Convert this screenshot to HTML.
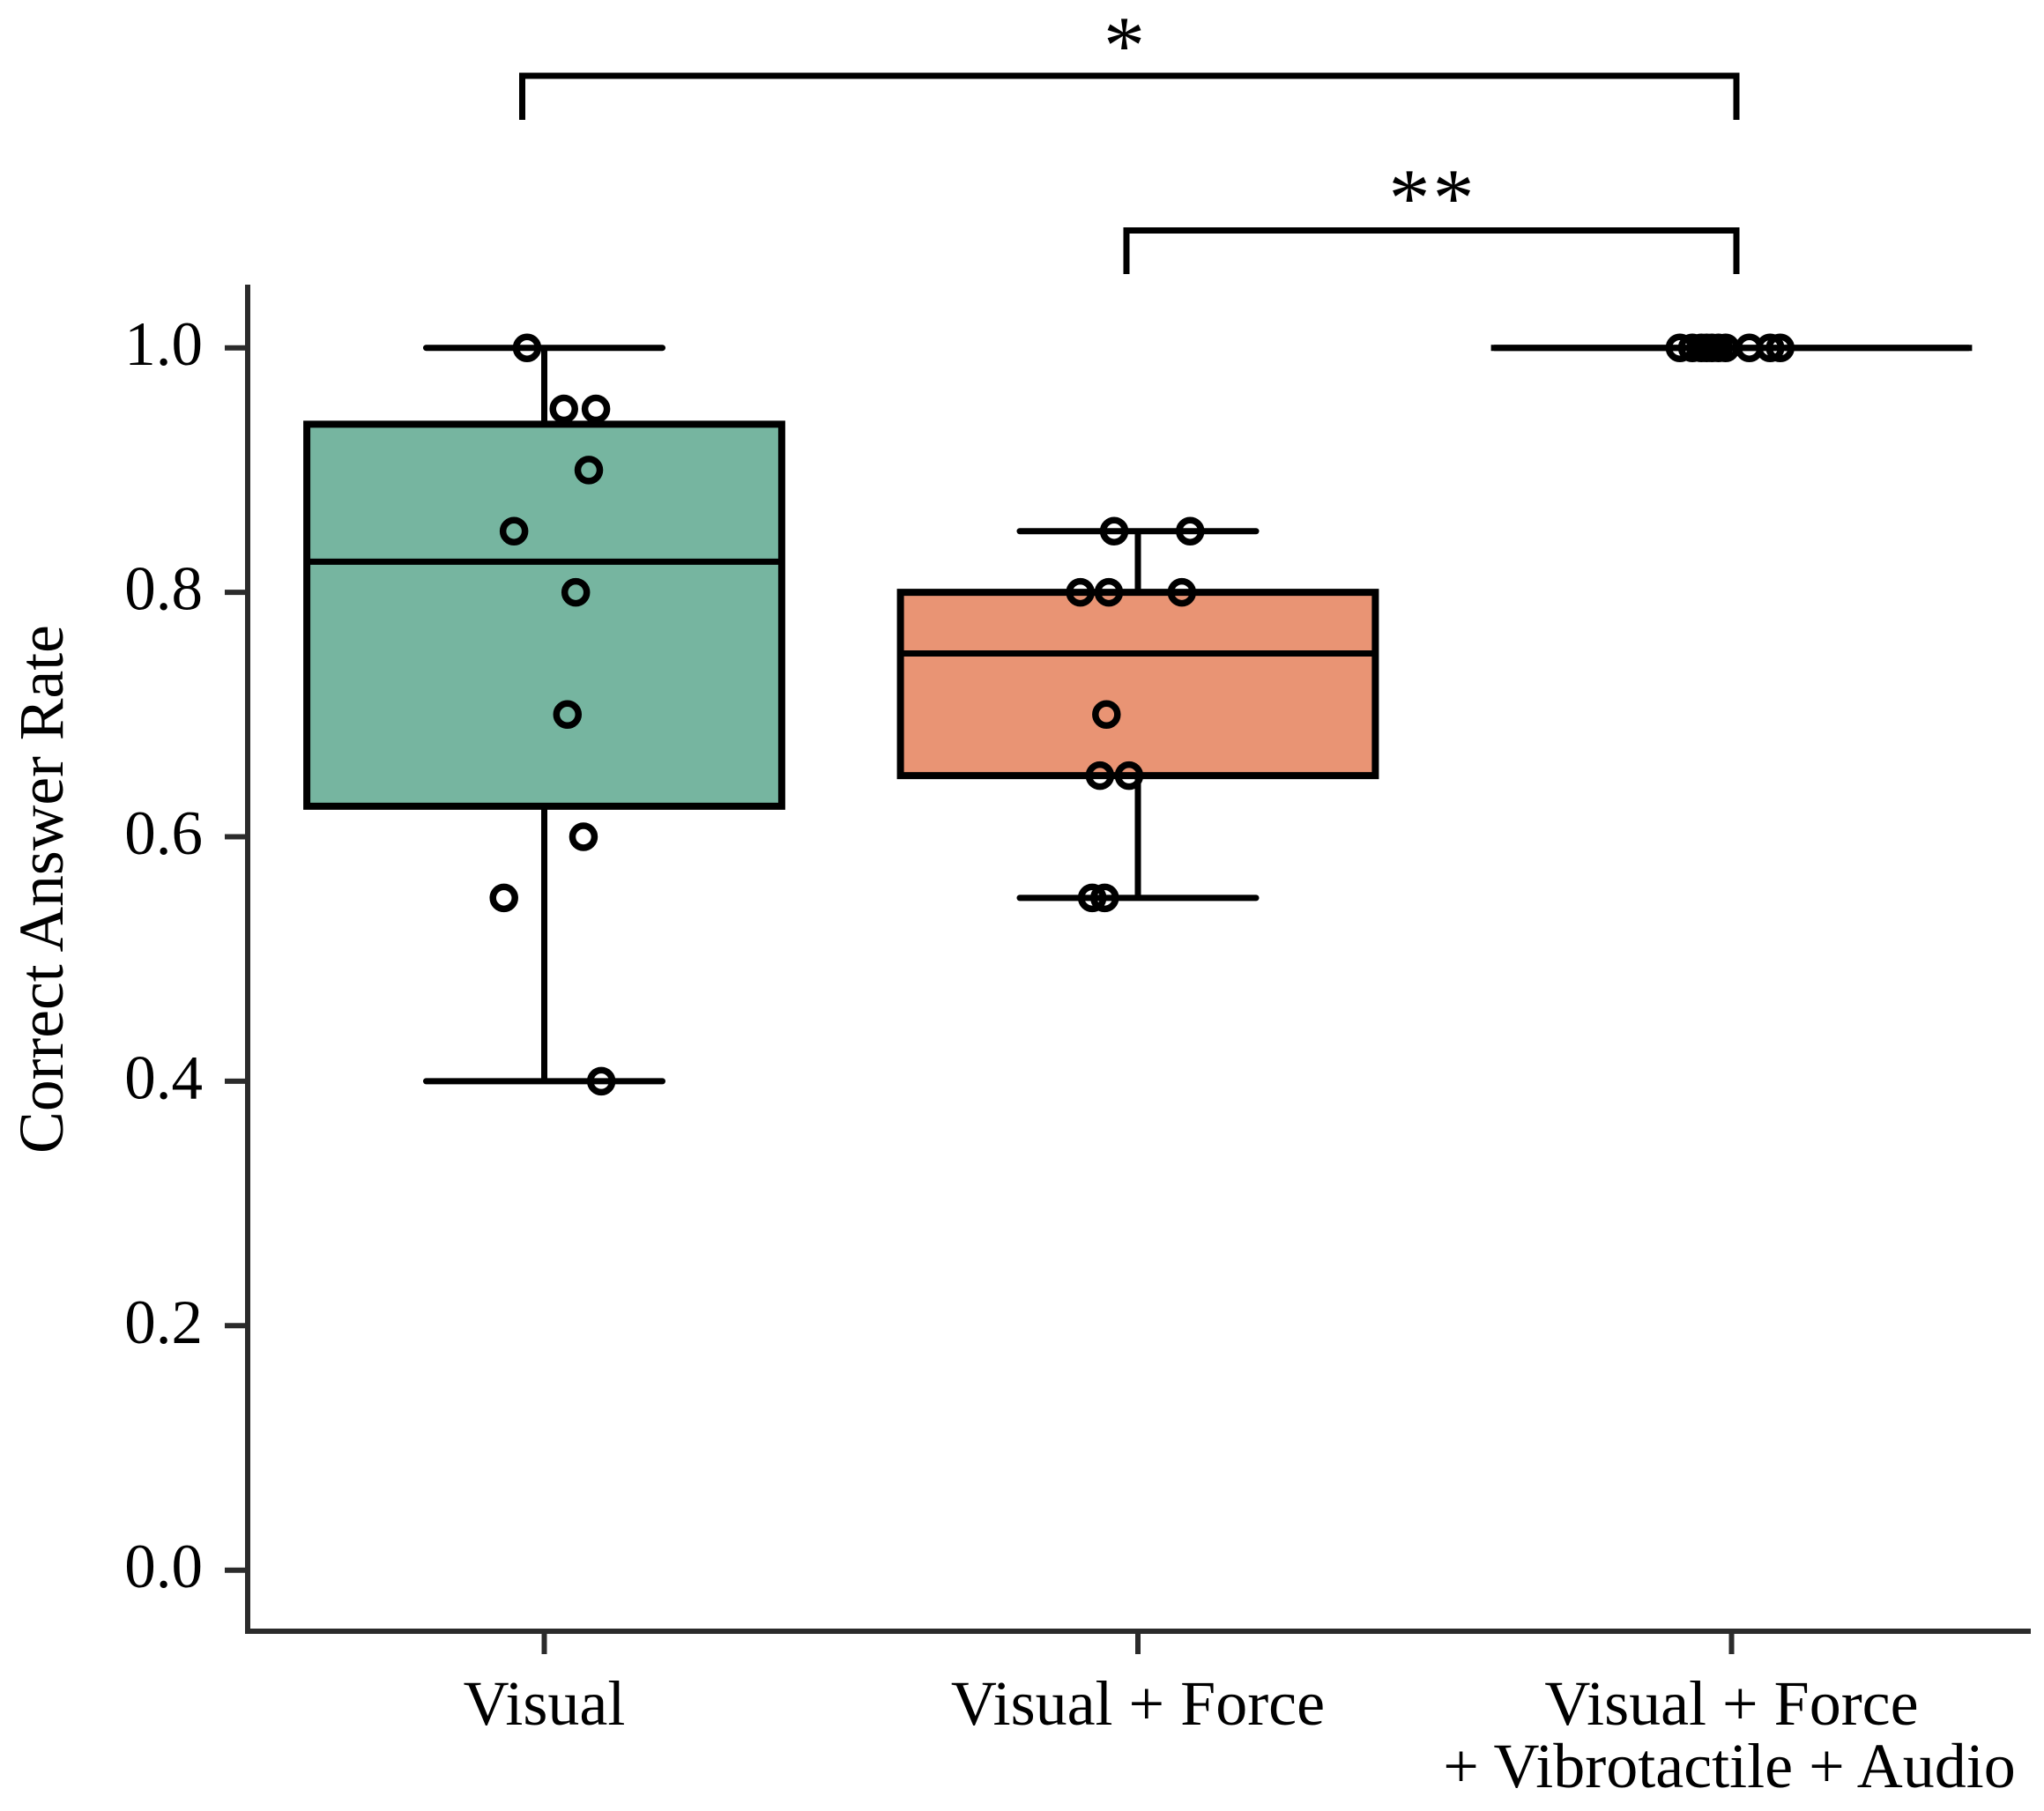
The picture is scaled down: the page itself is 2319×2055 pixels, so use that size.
<!DOCTYPE html>
<html lang="en">
<head>
<meta charset="utf-8">
<title>Correct Answer Rate by Feedback Condition</title>
<style>
html,body{margin:0;padding:0;background:#fff;}
svg{display:block;}
text{font-family:"Liberation Serif","Times New Roman",serif;fill:#000;}
</style>
</head>
<body>
<svg id="chart" xmlns="http://www.w3.org/2000/svg" width="2319" height="2055" viewBox="0 0 2319 2055">
  <rect x="0" y="0" width="2319" height="2055" fill="#ffffff"/>
  <g id="marks"></g>
  <path d="M281 323V1851" fill="none" stroke="#2b2b2b" stroke-width="6"/>
  <path d="M278 1851H2304" fill="none" stroke="#2b2b2b" stroke-width="6"/>
  <g id="axes"></g>
  <text transform="translate(71,1009) rotate(-90)" text-anchor="middle" font-size="71.5">Correct Answer Rate</text>
  <path d="M592.5 136V86H1970V136" fill="none" stroke="#000" stroke-width="7"/>
  <text x="1275.5" y="83" text-anchor="middle" font-size="94">*</text>
  <path d="M1278 311V261.5H1970V311" fill="none" stroke="#000" stroke-width="7"/>
  <text x="1625.5" y="256" text-anchor="middle" font-size="94" letter-spacing="3">**</text>
</svg>
<script>
const categories = [["Visual"], ["Visual + Force"], ["Visual + Force", "+ Vibrotactile + Audio"]];
const yTickValues = [0, 0.2, 0.4, 0.6, 0.8, 1];
const yTickLabels = ["0.0", "0.2", "0.4", "0.6", "0.8", "1.0"];
const boxQ1 = [0.625, 0.65, 1];
const boxMedian = [0.825, 0.75, 1];
const boxQ3 = [0.9375, 0.8, 1];
const whiskerLow = [0.4, 0.55, 1];
const whiskerHigh = [1, 0.85, 1];
const boxColors = ["#76b5a0", "#e99474", "none"];
const pointValues = [
  [1, 0.95, 0.95, 0.9, 0.85, 0.8, 0.7, 0.6, 0.55, 0.4],
  [0.85, 0.85, 0.8, 0.8, 0.8, 0.7, 0.65, 0.65, 0.55, 0.55],
  [1, 1, 1, 1, 1, 1, 1, 1, 1, 1]
];
const pointJitter = [
  [-0.029, 0.033, 0.087, 0.075, -0.051, 0.053, 0.039, 0.066, -0.068, 0.096],
  [-0.040, 0.088, -0.097, -0.049, 0.074, -0.053, -0.064, -0.015, -0.077, -0.056],
  [-0.087, -0.066, -0.051, -0.042, -0.033, -0.022, -0.010, 0.030, 0.065, 0.082]
];

const SVG_NS = "http://www.w3.org/2000/svg";
const yScale = v => 1781.7 - 1387 * v;
const xScale = c => 617.5 + 673.5 * c;
const BOX_HALF = 0.4;
const CAP_HALF = 0.199;
const marks = document.getElementById("marks");
const axes = document.getElementById("axes");

function make(parent, tag, attrs) {
  const node = document.createElementNS(SVG_NS, tag);
  Object.keys(attrs).forEach(k => node.setAttribute(k, attrs[k]));
  parent.appendChild(node);
  return node;
}

yTickValues.forEach((v, i) => {
  const tick = make(axes, "line", {x1: 255, x2: 281, y1: yScale(v), y2: yScale(v), stroke: "#2b2b2b", "stroke-width": 6});
  
  
  const label = make(axes, "text", {x: 230, y: yScale(v) + 19.5, "text-anchor": "end", "font-size": 71});
  
  
  label.textContent = yTickLabels[i];
});

categories.forEach((lines, c) => {
  const cx = xScale(c);
  const tick = make(axes, "line", {x1: cx, x2: cx, y1: 1851, y2: 1877, stroke: "#2b2b2b", "stroke-width": 6});
  
  
  lines.forEach((line, n) => {
    const label = make(axes, "text", {x: cx - n * 2.5, y: 1957 + n * 71, "text-anchor": "middle", "font-size": 72});
    
    
    label.textContent = line;
  });

  const left = xScale(c - BOX_HALF);
  const right = xScale(c + BOX_HALF);
  const capL = xScale(c - CAP_HALF);
  const capR = xScale(c + CAP_HALF);
  const lineStyle = {fill: "none", stroke: "#000", "stroke-width": 7, "stroke-linecap": "round"};

  const group = make(marks, "g", {});
  
  

  if (whiskerHigh[c] > boxQ3[c] || whiskerLow[c] < boxQ1[c]) {
    const upper = make(group, "path", Object.assign({d: `M${cx} ${yScale(boxQ3[c])}V${yScale(whiskerHigh[c])}`}, lineStyle, {"stroke-linecap": "butt"}));
    
    
    const lower = make(group, "path", Object.assign({d: `M${cx} ${yScale(boxQ1[c])}V${yScale(whiskerLow[c])}`}, lineStyle, {"stroke-linecap": "butt"}));
    
    
    const capHigh = make(group, "path", Object.assign({d: `M${capL} ${yScale(whiskerHigh[c])}H${capR}`}, lineStyle));
    
    
    const capLow = make(group, "path", Object.assign({d: `M${capL} ${yScale(whiskerLow[c])}H${capR}`}, lineStyle));
    
    
  }

  const box = make(group, "path", {
    d: `M${left} ${yScale(boxQ1[c])}H${right}V${yScale(boxQ3[c])}H${left}Z`,
    fill: boxColors[c], stroke: "#000", "stroke-width": boxQ1[c] === boxQ3[c] ? 7 : 8, "stroke-linejoin": "miter"
  });
  
  

  const median = make(group, "path", {
    d: `M${left} ${yScale(boxMedian[c])}H${right}`,
    fill: "none", stroke: "#000", "stroke-width": 7, "stroke-linecap": "square"
  });
  
  
});

pointValues.forEach((values, c) => {
  values.forEach((v, i) => {
    const dot = make(marks, "circle", {
      cx: xScale(c + pointJitter[c][i]), cy: yScale(v), r: 12.5,
      fill: "none", stroke: "#000", "stroke-width": 7.5
    });
    
    
  });
});
</script>
</body>
</html>
